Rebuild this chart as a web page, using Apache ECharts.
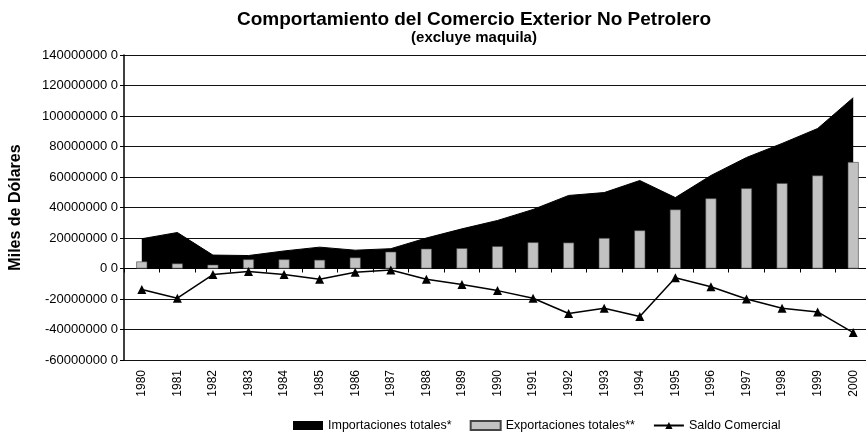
<!DOCTYPE html>
<html>
<head>
<meta charset="utf-8">
<script src="https://cdn.jsdelivr.net/npm/echarts@6/dist/echarts.min.js"></script>
<style>
  html, body { margin: 0; padding: 0; background: #fff; overflow: hidden; }
  #chart { width: 871px; height: 445px; }
</style>
</head>
<body>
<div id="chart"></div>
<script>
var years = ['1980','1981','1982','1983','1984','1985','1986','1987','1988','1989','1990',
             '1991','1992','1993','1994','1995','1996','1997','1998','1999','2000'];
// miles de dolares
var importaciones = [19500000, 23600000, 8800000, 8500000, 11500000, 14000000, 12000000, 13000000,
                     20000000, 26000000, 31500000, 38700000, 47900000, 49800000, 57700000, 46500000,
                     61000000, 72800000, 82000000, 91800000, 112000000];
var exportaciones = [4600000, 3300000, 2500000, 6000000, 6000000, 5700000, 7200000, 11000000,
                     13000000, 13300000, 14600000, 17200000, 17000000, 20000000, 25000000, 38700000,
                     46000000, 52600000, 56000000, 61000000, 69800000];
var saldo = [-13800000, -19500000, -4000000, -2000000, -4000000, -7000000, -2500000, -1000000,
             -7000000, -10500000, -14500000, -19500000, -29500000, -26000000, -31500000, -6000000,
             -12000000, -20000000, -26000000, -28500000, -42000000];

var chart = echarts.init(document.getElementById('chart'));
var option = {
  animation: false,
  backgroundColor: '#fff',
  textStyle: { fontFamily: 'Liberation Sans, Arial, sans-serif', color: '#000' },
  title: {
    text: 'Comportamiento del Comercio Exterior No Petrolero',
    subtext: '(excluye maquila)',
    left: 469,
    textAlign: 'center',
    top: 5,
    itemGap: 1,
    textStyle: { fontSize: 19, fontWeight: 'bold', color: '#000' },
    subtextStyle: { fontSize: 15, fontWeight: 'bold', color: '#000' }
  },
  legend: {
    bottom: 8,
    left: 288,
    itemGap: 18,
    itemWidth: 30,
    itemHeight: 9,
    textStyle: { fontSize: 12.5, color: '#000' },
    data: [
      { name: 'Importaciones totales*', icon: 'rect' },
      { name: 'Exportaciones totales**', icon: 'rect' },
      { name: 'Saldo Comercial' }
    ]
  },
  grid: { left: 119, right: 0, top: 55, bottom: 85 },
  xAxis: [
    {
      type: 'category',
      data: years,
      position: 'bottom',
      axisLine: { onZero: true, lineStyle: { color: '#000', width: 1 } },
      axisTick: { show: true, length: 4, lineStyle: { color: '#000' } },
      axisLabel: { show: false }
    },
    {
      type: 'category',
      data: years,
      position: 'bottom',
      axisLine: { show: false, onZero: false },
      axisTick: { show: false },
      axisLabel: { rotate: 90, fontSize: 12, color: '#000', margin: 10 }
    }
  ],
  yAxis: {
    type: 'value',
    min: -60000000,
    max: 140000000,
    interval: 20000000,
    name: 'Miles de Dólares',
    nameLocation: 'middle',
    nameGap: 100,
    nameTextStyle: { fontSize: 16, fontWeight: 'bold', color: '#000' },
    axisLine: { show: true, lineStyle: { color: '#000', width: 1.5 } },
    axisTick: { show: true, length: 4, lineStyle: { color: '#000' } },
    axisLabel: {
      fontSize: 13,
      color: '#000',
      margin: 6,
      formatter: function (v) { return v + ' 0'; }
    },
    splitLine: { lineStyle: { color: '#111', width: 1.2 } }
  },
  series: [
    {
      name: 'Importaciones totales*',
      type: 'line',
      data: importaciones,
      symbol: 'none',
      lineStyle: { color: '#000', width: 1 },
      itemStyle: { color: '#000' },
      areaStyle: { color: '#000', opacity: 1 },
      z: 1
    },
    {
      name: 'Exportaciones totales**',
      type: 'bar',
      data: exportaciones,
      barWidth: 11,
      itemStyle: { color: '#c2c2c2', borderColor: '#444', borderWidth: 0.6 },
      z: 2
    },
    {
      name: 'Saldo Comercial',
      type: 'line',
      data: saldo,
      symbol: 'triangle',
      symbolSize: 9,
      lineStyle: { color: '#000', width: 1.5 },
      itemStyle: { color: '#000' },
      z: 3
    }
  ]
};
chart.setOption(option);
</script>
</body>
</html>
